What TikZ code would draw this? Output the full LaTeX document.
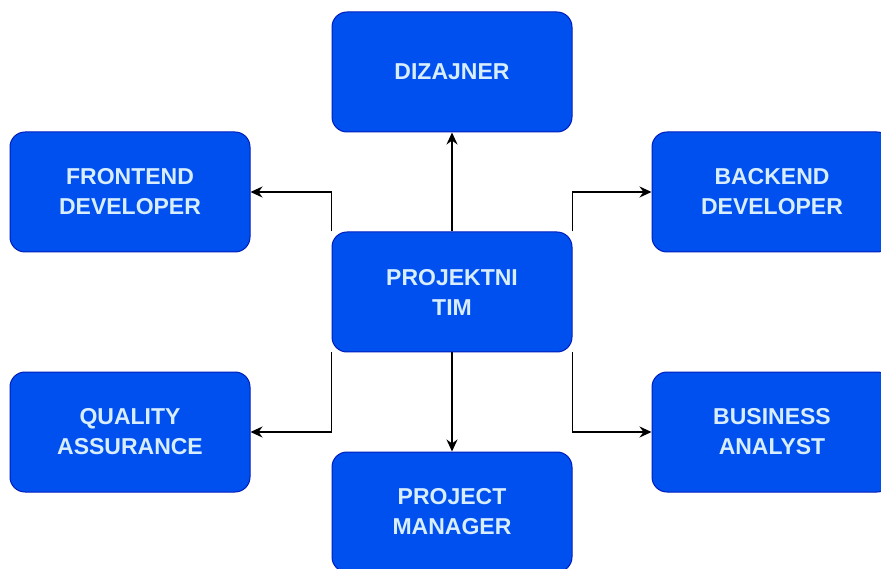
\documentclass[tikz,border=0pt]{standalone}
\usepackage{fontspec}
\usetikzlibrary{arrows.meta}
\newfontfamily\boxfont{Liberation Sans}
\tikzset{>={Stealth[length=12pt,width=11pt]}}
\definecolor{boxfill}{HTML}{0050EF}
\definecolor{boxline}{HTML}{001DBC}
\definecolor{boxtext}{HTML}{D8EEFF}
\tikzset{
  role/.style={draw=boxline,fill=boxfill,line width=1pt,rounded corners=15pt,
               minimum width=240pt,minimum height=120pt,align=center,
               text=boxtext,font=\boxfont\bfseries\fontsize{23}{30}\selectfont},
  link/.style={->,line width=1.5pt,black}}

\begin{document}
\begin{tikzpicture}[x=1pt,y=-1pt]
  \useasboundingbox[fill=white] (0,0) rectangle (881,569); % page size

  % BOXES
  \node[role] (tim)  at (452,292) {PROJEKTNI\\TIM};       % centre
  \node[role] (diz)  at (452,72)  {DIZAJNER};             % top
  \node[role] (pm)   at (452,512) {PROJECT\\MANAGER};     % bottom
  \node[role] (fe)   at (130,192) {FRONTEND\\DEVELOPER};  % top left
  \node[role] (be)   at (772,192) {BACKEND\\DEVELOPER};   % top right
  \node[role] (qa)   at (130,432) {QUALITY\\ASSURANCE};   % bottom left
  \node[role] (ba)   at (772,432) {BUSINESS\\ANALYST};    % bottom right

  % LINKS
  \draw[link] (tim.north) -- (diz.south);
  \draw[link] (tim.south) -- (pm.north);
  \draw[link] (tim.north west) |- (fe.east);
  \draw[link] (tim.north east) |- (be.west);
  \draw[link] (tim.south west) |- (qa.east);
  \draw[link] (tim.south east) |- (ba.west);

\end{tikzpicture}
\end{document}
